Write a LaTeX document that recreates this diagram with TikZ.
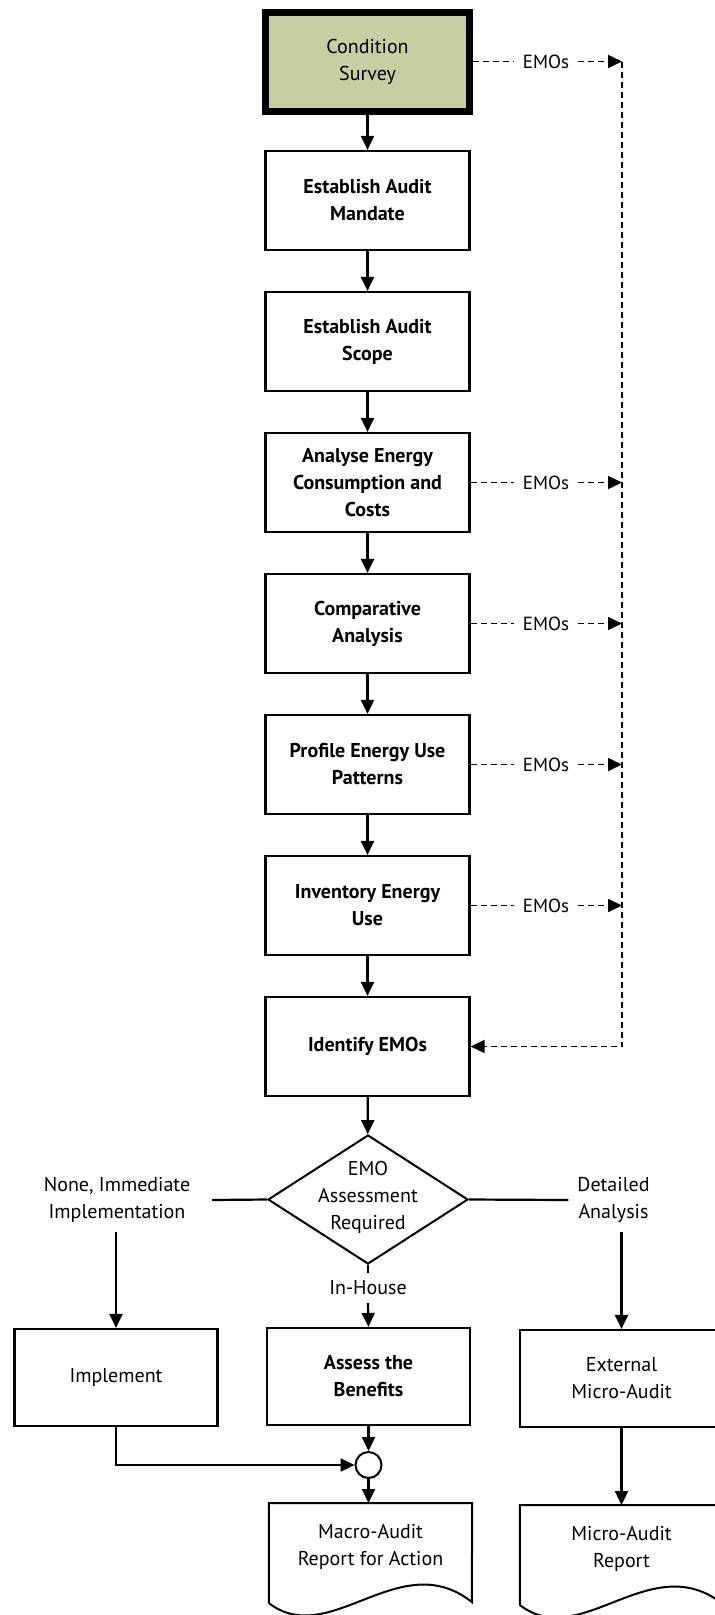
\documentclass[tikz,border=0pt]{standalone}
\usepackage{fontspec}
\setmainfont{PT Sans}
\usetikzlibrary{arrows.meta,shapes.geometric,calc}
\definecolor{khaki}{RGB}{200,205,162}

% outline of a document symbol (flat top, wavy bottom) around node #1
\newcommand\wavydoc[1]{%
  \draw[docline] ($(#1.north west)+(0,100)$) -- (#1.north west) -- (#1.north east)
    -- ($(#1.north west)+(203,99)$)
    .. controls ($(#1.north west)+(131,42)$) and ($(#1.north west)+(61,147)$)
    .. ($(#1.north west)+(0,100)$);}

\begin{document}
\begin{tikzpicture}[x=1pt,y=-1pt,
  every node/.style={font=\fontsize{20}{27}\selectfont, align=center, inner sep=0pt},
  stepbox/.style={draw, line width=2.2pt, minimum width=204pt, minimum height=99pt,
    font=\fontsize{20}{27}\selectfont\bfseries},
  plainbox/.style={stepbox, font=\fontsize{20}{27}\selectfont},
  startbox/.style={plainbox, fill=khaki, line width=7pt},
  endbox/.style={minimum width=203pt, minimum height=97pt},
  decision/.style={draw, diamond, line width=2pt, minimum width=200pt, minimum height=129pt},
  flow/.style={line width=2.2pt, -{Triangle[length=14pt,width=13pt]}},
  plainline/.style={line width=2.2pt},
  emoline/.style={line width=1.6pt, dash pattern=on 6pt off 4pt},
  emoarrow/.style={emoline, -{Triangle[length=14pt,width=13pt]}},
  emotag/.style={minimum width=64pt, font=\fontsize{19}{27}\selectfont},
  junction/.style={circle, draw, line width=2pt, minimum size=26pt},
  doc/.style={minimum width=203pt, minimum height=88pt},
  docline/.style={line width=2pt},
]
\useasboundingbox (0,0) rectangle (715,1615);
\clip (0,0) rectangle (715,1615);

% main column of audit steps
\node[startbox] (cs)        at (367.5,61.5)   {Condition\\Survey};
\node[stepbox]  (mandate)   at (367.5,200.5)  {Establish Audit\\Mandate};
\node[stepbox]  (scope)     at (367.5,341.5)  {Establish Audit\\Scope};
\node[stepbox]  (analyse)   at (367.5,482.5)  {Analyse Energy\\Consumption and\\Costs};
\node[stepbox]  (compar)    at (367.5,623.5)  {Comparative\\Analysis};
\node[stepbox]  (profile)   at (367.5,764.5)  {Profile Energy Use\\Patterns};
\node[stepbox]  (inventory) at (367.5,905.5)  {Inventory Energy\\Use};
\node[stepbox]  (identify)  at (367.5,1046.5) {Identify EMOs};

\draw[flow] (cs) -- (mandate);
\draw[flow] (mandate) -- (scope);
\draw[flow] (scope) -- (analyse);
\draw[flow] (analyse) -- (compar);
\draw[flow] (compar) -- (profile);
\draw[flow] (profile) -- (inventory);
\draw[flow] (inventory) -- (identify);

% EMO outputs collected on the dashed trunk
\foreach \src/\k in {cs/0, analyse/1, compar/2, profile/3, inventory/4} {
  \node[emotag] (emo\k) at (\src.east -| 546,0) {EMOs};
  \coordinate (trunk\k) at (\src.east -| 622,0);
  \draw[emoline] (\src.east) -- (emo\k.west);
  \draw[emoarrow] (emo\k.east) -- (trunk\k);
}
\coordinate (trunkend) at (identify.east -| 622,0);
\draw[emoarrow] (trunk0) -- (trunkend) -- (identify.east);

% decision
\node[decision] (dec) at (368,1199.5) {};
\node (dectext) at (368,1197) {EMO\\Assessment\\Required};
\draw[flow] (identify) -- (dec);

\node[minimum width=190pt, minimum height=64pt] (lblL) at (117,1200) {None, Immediate\\Implementation};
\node[minimum width=90pt, minimum height=64pt]  (lblR) at (613.5,1200) {Detailed\\Analysis};
\node[minimum height=30pt] (inhouse) at (368,1288) {In-House};
\draw[plainline] (dec.west) -- (lblL.east);
\draw[plainline] (dec.east) -- (lblR.west);
\draw[plainline] (dec.south) -- (inhouse.north);

% outcomes
\node[plainbox, endbox] (impl)   at (116,1377.5)   {Implement};
\node[stepbox,  endbox] (assess) at (368.5,1376.5) {Assess the\\Benefits};
\node[plainbox, endbox] (ext)    at (621.5,1378.5) {External\\Micro-Audit};

\draw[flow] (impl.north |- lblL.south) -- (impl.north);
\draw[flow] (inhouse.south) -- (assess.north);
\draw[flow] (ext.north |- lblR.south) -- (ext.north);

\node[junction] (jn) at (368.5,1465) {};
\draw[flow] (assess.south) -- (jn.north);
\draw[flow] (impl.south) |- (jn.west);

% reports
\node[doc, anchor=north] (macro) at (370.5,1503) {Macro-Audit\\Report for Action};
\node[doc, anchor=north] (micro) at (621.5,1505) {Micro-Audit\\Report};
\wavydoc{macro}
\wavydoc{micro}
\draw[flow] (jn.south) -- (jn.south |- macro.north);
\draw[flow] (ext.south) -- (micro.north);
\end{tikzpicture}
\end{document}
